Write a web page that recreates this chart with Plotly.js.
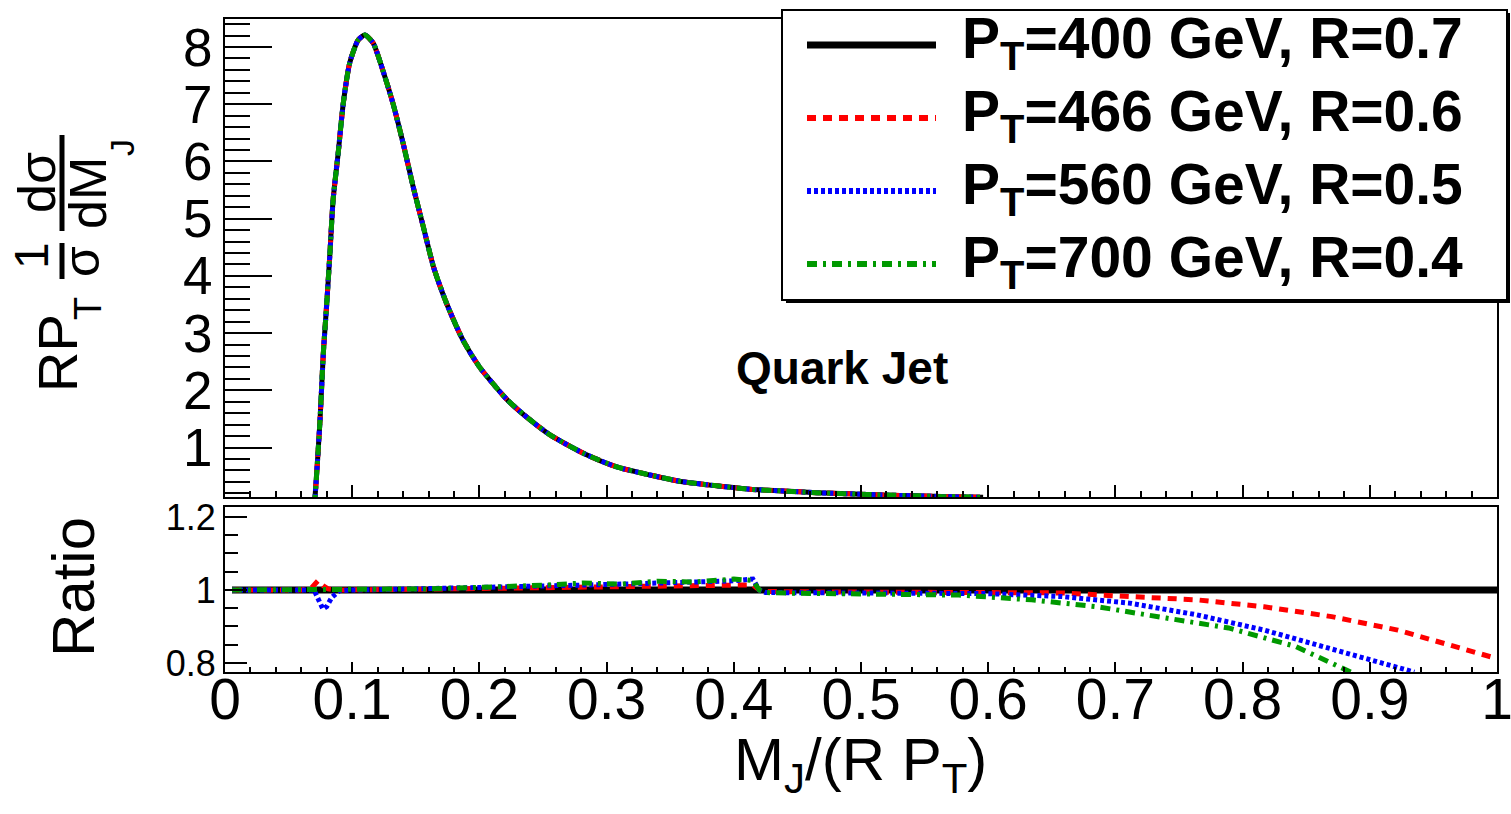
<!DOCTYPE html>
<html>
<head>
<meta charset="utf-8">
<script src="https://cdn.plot.ly/plotly-3.0.1.min.js"></script>
<style>html,body{margin:0;padding:0;background:#fff;}#plot{width:1511px;height:814px;}</style>
</head>
<body>
<div id="plot"></div>
<script>
// ---------- DATA ----------
// Top panel: normalised jet mass distribution (all four curves coincide)
const massTop = [0.0700, 0.0708, 0.0747, 0.0773, 0.0800, 0.0825, 0.0850, 0.0890, 0.0930, 0.0980, 0.1046, 0.1100, 0.1165, 0.1240, 0.1320, 0.1400, 0.1480, 0.1560, 0.1640, 0.1740, 0.1870, 0.2000, 0.2220, 0.2400, 0.2555, 0.2817, 0.3080, 0.3340, 0.3600, 0.3866, 0.4127, 0.4390, 0.4650, 0.4910, 0.5175, 0.5434, 0.5700, 0.5960];
const distTop = [0.00, 0.14, 1.48, 2.65, 3.52, 4.40, 5.33, 6.15, 7.02, 7.72, 8.12, 8.21, 8.07, 7.60, 7.02, 6.32, 5.55, 4.85, 4.15, 3.53, 2.88, 2.41, 1.83, 1.48, 1.22, 0.90, 0.66, 0.52, 0.40, 0.33, 0.27, 0.24, 0.21, 0.19, 0.17, 0.155, 0.14, 0.13];

// Ratio panel (relative to PT=400 GeV, R=0.7)
const ratioX400 = [0.0055, 0.1, 0.2, 0.3, 0.4, 0.5, 0.6, 0.7, 0.8, 0.9, 1.0];
const ratioY400 = [1, 1, 1, 1, 1, 1, 1, 1, 1, 1, 1];

const ratioX466 = [0.0055, 0.060, 0.068, 0.073, 0.077, 0.081, 0.090, 0.100, 0.150, 0.200, 0.250, 0.300, 0.350, 0.400, 0.415, 0.420, 0.425, 0.450, 0.500, 0.550, 0.600, 0.658, 0.711, 0.764, 0.817, 0.870, 0.922, 0.959, 1.000];
const ratioY466 = [1.000, 1.000, 1.006, 1.025, 1.012, 1.003, 1.000, 1.000, 1.002, 1.004, 1.006, 1.008, 1.010, 1.013, 1.014, 1.000, 0.996, 0.995, 0.995, 0.995, 0.994, 0.992, 0.982, 0.973, 0.954, 0.927, 0.890, 0.854, 0.812];

const ratioX560 = [0.0055, 0.060, 0.070, 0.074, 0.077, 0.080, 0.084, 0.090, 0.100, 0.150, 0.200, 0.250, 0.300, 0.350, 0.400, 0.415, 0.420, 0.425, 0.450, 0.500, 0.550, 0.600, 0.658, 0.711, 0.764, 0.817, 0.862, 0.902, 0.935];
const ratioY560 = [1.000, 1.000, 1.000, 0.970, 0.948, 0.955, 0.980, 0.998, 1.000, 1.003, 1.006, 1.010, 1.015, 1.020, 1.025, 1.030, 1.000, 0.993, 0.992, 0.992, 0.991, 0.990, 0.982, 0.964, 0.932, 0.890, 0.845, 0.808, 0.775];

const ratioX700 = [0.0055, 0.100, 0.161, 0.190, 0.221, 0.250, 0.281, 0.310, 0.340, 0.370, 0.400, 0.415, 0.420, 0.425, 0.450, 0.500, 0.577, 0.634, 0.686, 0.740, 0.789, 0.842, 0.885];
const ratioY700 = [1.000, 1.000, 1.003, 1.006, 1.008, 1.013, 1.019, 1.016, 1.024, 1.022, 1.030, 1.026, 1.000, 0.993, 0.991, 0.990, 0.986, 0.973, 0.954, 0.923, 0.896, 0.845, 0.775];

const seriesNames = ['P<sub>T</sub>=400 GeV, R=0.7', 'P<sub>T</sub>=466 GeV, R=0.6', 'P<sub>T</sub>=560 GeV, R=0.5', 'P<sub>T</sub>=700 GeV, R=0.4'];
const seriesColors = ['#000000', '#ff0000', '#0000ff', '#009900'];
const seriesDash = ['solid', '9px,7px', '4px,3px', '10px,6px,3px,6px'];
const ratioXs = [ratioX400, ratioX466, ratioX560, ratioX700];
const ratioYs = [ratioY400, ratioY466, ratioY560, ratioY700];

// ---------- GEOMETRY HELPERS (pixel -> paper) ----------
const L = 225, R = 14, T = 19, B = 142, W = 1511, H = 814;
const pw = W - L - R, ph = H - T - B;
const px2x = p => (p - L) / pw;
const py2y = p => (H - B - p) / ph;

const FONT = 'Liberation Sans, Arial, Helvetica, sans-serif';

// ---------- TRACES ----------
const traces = [];
for (let i = 0; i < 4; i++) {
  traces.push({
    x: massTop, y: distTop, type: 'scatter', mode: 'lines',
    xaxis: 'x', yaxis: 'y', name: seriesNames[i], showlegend: false,
    line: {color: seriesColors[i], width: 5, dash: seriesDash[i], shape: 'spline', smoothing: 0.6}
  });
}
for (let i = 0; i < 4; i++) {
  traces.push({
    x: ratioXs[i], y: ratioYs[i], type: 'scatter', mode: 'lines',
    xaxis: 'x2', yaxis: 'y2', name: seriesNames[i], showlegend: false,
    line: {color: seriesColors[i], width: i === 0 ? 7 : 5, dash: seriesDash[i]}
  });
}

// ---------- AXES ----------
const baseAxis = {
  showline: true, linewidth: 2, linecolor: '#000', mirror: true,
  showgrid: false, zeroline: false, ticks: 'inside', tickcolor: '#000', tickwidth: 2,
  tickfont: {family: FONT, size: 56, color: '#000'}
};

const layout = {
  width: W, height: H,
  margin: {l: L, r: R, t: T, b: B, pad: 0},
  paper_bgcolor: '#fff', plot_bgcolor: '#fff',
  showlegend: false,
  font: {family: FONT, color: '#000'},
  xaxis: Object.assign({}, baseAxis, {
    domain: [0, 1], anchor: 'y', range: [0, 1], dtick: 0.1, tick0: 0, ticklen: 12,
    showticklabels: false, matches: 'x2',
    minor: {dtick: 0.02, ticklen: 6, tickwidth: 2, tickcolor: '#000', ticks: 'inside'}
  }),
  xaxis2: Object.assign({}, baseAxis, {
    domain: [0, 1], anchor: 'y2', range: [0, 1], dtick: 0.1, tick0: 0, ticklen: 10,
    showticklabels: true, tickfont: {family: FONT, size: 57, color: '#000'},
    ticklabeloverflow: 'allow', ticklabelstandoff: -23,
    minor: {dtick: 0.02, ticklen: 5, tickwidth: 2, tickcolor: '#000', ticks: 'inside'}
  }),
  yaxis: Object.assign({}, baseAxis, {
    domain: [0.268, 1], anchor: 'x', range: [0.135, 8.49], dtick: 1, tick0: 0, ticklen: 47,
    tickfont: {family: FONT, size: 53, color: '#000'},
    minor: {dtick: 0.2, ticklen: 25, tickwidth: 2, tickcolor: '#000', ticks: 'inside'}
  }),
  yaxis2: Object.assign({}, baseAxis, {
    domain: [0, 0.2527], anchor: 'x2', range: [0.7753, 1.2274], dtick: 0.2, tick0: 0, ticklen: 22,
    tickfont: {family: FONT, size: 36, color: '#000'},
    minor: {dtick: 0.05, ticklen: 13, tickwidth: 2, tickcolor: '#000', ticks: 'inside'}
  }),
  shapes: [],
  annotations: []
};

// ---------- LEGEND BOX (drawn by hand, ROOT style) ----------
layout.shapes.push({type: 'rect', xref: 'paper', yref: 'paper', layer: 'above',
  x0: px2x(786), x1: px2x(1510), y0: py2y(303), y1: py2y(13),
  fillcolor: '#000', line: {width: 0}});
layout.shapes.push({type: 'rect', xref: 'paper', yref: 'paper', layer: 'above',
  x0: px2x(782), x1: px2x(1507), y0: py2y(300), y1: py2y(10),
  fillcolor: '#fff', line: {color: '#000', width: 2}});
const rowY = [45, 118, 191, 264];
for (let i = 0; i < 4; i++) {
  layout.shapes.push({type: 'line', xref: 'paper', yref: 'paper', layer: 'above',
    x0: px2x(807), x1: px2x(936), y0: py2y(rowY[i]), y1: py2y(rowY[i]),
    line: {color: seriesColors[i], width: i === 0 ? 7 : 6, dash: seriesDash[i]}});
  layout.annotations.push({xref: 'paper', yref: 'paper', x: px2x(960), y: py2y(rowY[i] - 3),
    xanchor: 'left', yanchor: 'middle', showarrow: false, text: '<b>' + seriesNames[i] + '</b>',
    font: {family: FONT, size: 57, color: '#000'}});
}

// ---------- TEXT ----------
layout.annotations.push({xref: 'x', yref: 'y', x: 0.485, y: 2.39, showarrow: false,
  text: '<b>Quark Jet</b>', font: {family: FONT, size: 46, color: '#000'}, xanchor: 'center', yanchor: 'middle'});

// x-axis title
layout.annotations.push({xref: 'paper', yref: 'paper', x: px2x(860), y: py2y(724), showarrow: false,
  text: 'M<sub>J</sub>/(R P<sub>T</sub>)', font: {family: FONT, size: 60, color: '#000'}, xanchor: 'center', yanchor: 'top'});

// Ratio y title
layout.annotations.push({xref: 'paper', yref: 'paper', x: px2x(73), y: py2y(587), showarrow: false,
  text: 'Ratio', textangle: -90, font: {family: FONT, size: 60, color: '#000'}, xanchor: 'center', yanchor: 'middle'});

// Top y title:  RP_T (1/σ) dσ/dM_J  built from pieces
const yt = (txt, cx, cy, size) => layout.annotations.push({xref: 'paper', yref: 'paper', x: px2x(cx), y: py2y(cy),
  showarrow: false, text: txt, textangle: -90, font: {family: FONT, size: size, color: '#000'}, xanchor: 'center', yanchor: 'middle'});
yt('RP', 57, 353, 56);
yt('T', 88, 309, 38);
yt('1', 31, 256, 48);
yt('σ', 82, 262, 50);
yt('dσ', 37, 183, 52);
yt('dM', 88, 193, 52);
yt('J', 122, 148, 34);
layout.shapes.push({type: 'line', xref: 'paper', yref: 'paper', x0: px2x(62), x1: px2x(62), y0: py2y(243), y1: py2y(279), line: {color: '#000', width: 5}});
layout.shapes.push({type: 'line', xref: 'paper', yref: 'paper', x0: px2x(62), x1: px2x(62), y0: py2y(135), y1: py2y(231), line: {color: '#000', width: 5}});

Plotly.newPlot('plot', traces, layout, {staticPlot: true, displayModeBar: false});
</script>
</body>
</html>
